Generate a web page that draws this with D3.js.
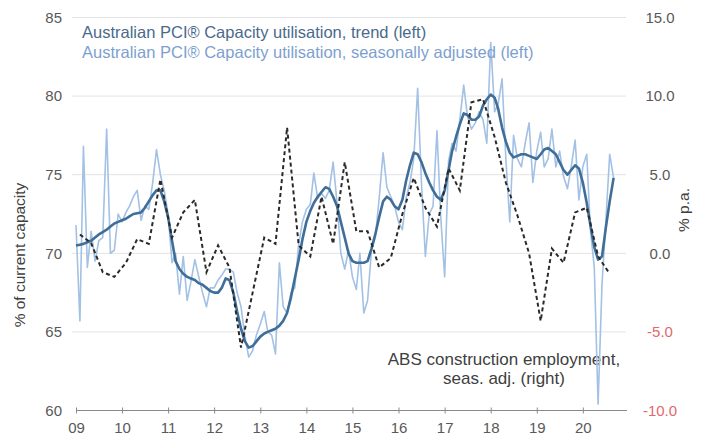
<!DOCTYPE html>
<html><head><meta charset="utf-8">
<script src="https://cdn.jsdelivr.net/npm/d3@7"></script>
<style>body{margin:0;background:#fff}svg{display:block;font-family:"Liberation Sans",Arial,sans-serif}</style>
</head><body><svg id="c" width="701" height="442"></svg>
<script>
// ---- data ----
const tickYears = [2009,2010,2011,2012,2013,2014,2015,2016,2017,2018,2019,2020];
const tickLabels = ["09","10","11","12","13","14","15","16","17","18","19","20"];
const leftTicks = [60,65,70,75,80,85];
const rightTicks = [-10,-5,0,5,10,15];
const rightTickLabels = ["-10.0","-5.0","0.0","5.0","10.0","15.0"];

// Monthly, Jan 2009 - Sep 2020 (% of current capacity)
const trend = [
70.5,70.55,70.6,70.7,70.8,71.0,71.2,71.35,71.5,71.7,71.9,72.0,
72.1,72.2,72.35,72.5,72.55,72.6,72.9,73.3,73.7,74.0,74.0,73.3,
72.3,70.8,69.5,69.0,68.7,68.5,68.4,68.3,68.1,68.0,67.8,67.6,
67.5,67.5,67.8,68.4,68.3,67.5,66.3,65.2,64.4,64.0,64.1,64.4,
64.7,64.9,65.0,65.1,65.2,65.4,65.7,66.2,67.2,68.4,69.6,70.9,
72.0,72.7,73.2,73.6,73.9,74.2,74.1,73.6,73.0,72.0,71.0,70.0,
69.5,69.4,69.4,69.4,69.5,70.3,71.2,72.3,73.3,73.6,73.4,73.0,
72.8,73.4,74.6,75.6,76.4,76.3,75.8,75.1,74.5,74.0,73.6,73.4,
74.0,75.3,76.5,77.4,78.2,78.9,78.8,78.5,78.5,78.7,79.4,79.8,
80.1,79.9,79.2,78.0,77.1,76.4,76.1,76.2,76.3,76.3,76.2,76.1,
76.0,76.3,76.6,76.7,76.5,76.3,75.8,75.3,75.0,75.3,75.6,75.4,
74.5,73.2,71.8,70.4,69.6,69.8,71.6,73.3,74.8];
const seasAdj = [
71.8,65.7,76.8,69.1,71.4,69.5,70.8,71.0,77.9,70.0,70.2,72.5,
72.0,72.6,73.0,73.6,74.0,72.1,73.0,72.8,74.5,76.6,75.0,74.0,
72.5,69.4,70.0,67.4,69.8,67.0,68.2,69.6,68.5,67.5,66.6,67.8,
67.8,68.3,68.6,69.0,69.0,68.8,67.5,66.6,64.7,63.4,63.8,64.8,
65.5,66.3,65.0,64.8,63.6,69.4,66.6,66.2,67.5,67.8,70.6,72.0,
72.8,73.1,75.1,73.5,73.8,73.5,74.0,75.8,73.2,70.0,69.0,70.2,
68.5,67.7,70.0,66.2,67.0,70.2,71.0,73.5,76.4,74.2,73.6,73.0,
72.0,71.5,73.5,74.5,76.0,80.5,74.5,69.8,72.5,73.0,77.8,72.3,
68.5,75.9,77.0,76.5,78.5,80.7,78.7,77.9,78.3,79.0,78.5,77.0,
83.4,79.0,79.5,81.1,76.0,72.0,77.5,76.0,75.5,77.0,78.3,74.5,
76.5,77.7,75.5,76.0,77.9,75.5,76.5,74.9,74.1,75.5,77.2,73.4,
75.5,76.3,71.5,69.1,60.4,68.0,72.0,76.3,74.8];
// Quarterly (Feb/May/Aug/Nov), Feb 2009 - Aug 2020 (% p.a.)
const employment = [
1.2,0.65,-1.2,-1.5,-0.6,0.9,0.6,4.7,1.0,2.6,3.4,-1.2,
0.5,-0.9,-6.0,-2.5,1.0,0.6,8.0,0.5,-0.2,3.6,0.6,5.8,
1.4,1.4,-0.9,-0.3,2.5,4.8,2.9,1.7,5.4,4.0,9.6,9.8,
7.4,4.5,2.4,0.0,-4.3,0.3,-0.6,2.6,2.9,-0.2,-1.3];

const monthlyStart = new Date(2009,0,1);
const quarterlyStart = new Date(2009,1,1);

// ---- chart ----
const svg = d3.select("#c");
const x = d3.scaleTime().domain([new Date(2009,0,1), new Date(2021,0,1)]).range([76,629]);
const yL = d3.scaleLinear().domain([60,85]).range([410.5,17.5]);
const yR = d3.scaleLinear().domain([-10,15]).range([410.5,17.5]);

const textCol = "#595959";
const FF = "Liberation Sans, Arial, sans-serif";

// gridlines
svg.append("g").selectAll("line").data(leftTicks.filter(d=>d>60)).join("line")
  .attr("x1",72).attr("x2",626)
  .attr("y1",d=>yL(d)).attr("y2",d=>yL(d))
  .attr("stroke","#e3e3e3").attr("stroke-width",1);

// x axis
const xAxis = d3.axisBottom(x)
  .tickValues(tickYears.map(y=>new Date(y,0,1)))
  .tickFormat((d,i)=>tickLabels[i])
  .tickSizeInner(3).tickSizeOuter(0).tickPadding(9);
const gx = svg.append("g").attr("transform",`translate(0,${yL(60)})`).call(xAxis);
gx.select(".domain").attr("stroke","#8a8a8a").attr("stroke-width",1.2).attr("d","M76,0H627");
gx.selectAll(".tick line").attr("stroke","#8a8a8a").attr("y1",-3).attr("y2",3);
gx.selectAll(".tick text").attr("fill",textCol).attr("font-size",15).attr("font-family",FF);

// left axis
const gl = svg.append("g").attr("transform","translate(72,0)")
  .call(d3.axisLeft(yL).tickValues(leftTicks).tickSize(0).tickPadding(10));
gl.select(".domain").remove();
gl.selectAll(".tick text").attr("fill",textCol).attr("font-size",15).attr("font-family",FF);

// right axis
const gr = svg.append("g").attr("transform","translate(626,0)")
  .call(d3.axisRight(yR).tickValues(rightTicks).tickSize(0).tickFormat((d,i)=>rightTickLabels[i]));
gr.select(".domain").remove();
gr.selectAll(".tick text").attr("x",34).attr("text-anchor","middle")
  .attr("fill",d=>d<0?"#e26870":textCol).attr("font-size",15).attr("font-family",FF);

// axis titles
svg.append("text").attr("transform","translate(25,255) rotate(-90)").attr("text-anchor","middle")
  .attr("font-size",15.5).attr("fill","#404040").text("% of current capacity");
svg.append("text").attr("transform","translate(689,210) rotate(-90)").attr("text-anchor","middle")
  .attr("font-size",15.5).attr("fill","#404040").text("% p.a.");

// annotation
svg.append("text").attr("x",504).attr("y",365).attr("text-anchor","middle").attr("font-size",17)
  .attr("fill","#404040").text("ABS construction employment,");
svg.append("text").attr("x",504).attr("y",384).attr("text-anchor","middle").attr("font-size",17)
  .attr("fill","#404040").text("seas. adj. (right)");

// lines
const mDate = i => d3.timeMonth.offset(monthlyStart,i);
const qDate = i => d3.timeMonth.offset(quarterlyStart,3*i);

svg.append("path").datum(seasAdj)
  .attr("fill","none").attr("stroke","#a3c1e4").attr("stroke-width",1.6).attr("stroke-linejoin","round")
  .attr("d",d3.line().x((d,i)=>x(mDate(i))).y(d=>yL(d)));
svg.append("path").datum(trend)
  .attr("fill","none").attr("stroke","#3f6e98").attr("stroke-width",2.6).attr("stroke-linejoin","round")
  .attr("d",d3.line().x((d,i)=>x(mDate(i))).y(d=>yL(d)));
svg.append("path").datum(employment)
  .attr("fill","none").attr("stroke","#2a2a2a").attr("stroke-width",2).attr("stroke-dasharray","4,3")
  .attr("d",d3.line().x((d,i)=>x(qDate(i))).y(d=>yR(d)));

// legend
svg.append("text").attr("x",82).attr("y",38).attr("font-size",16.5).attr("fill","#4a6a8c")
  .text("Australian PCI® Capacity utilisation, trend (left)");
svg.append("text").attr("x",82).attr("y",58).attr("font-size",16.5).attr("fill","#7d9fd0")
  .text("Australian PCI® Capacity utilisation, seasonally adjusted (left)");
</script></body></html>
